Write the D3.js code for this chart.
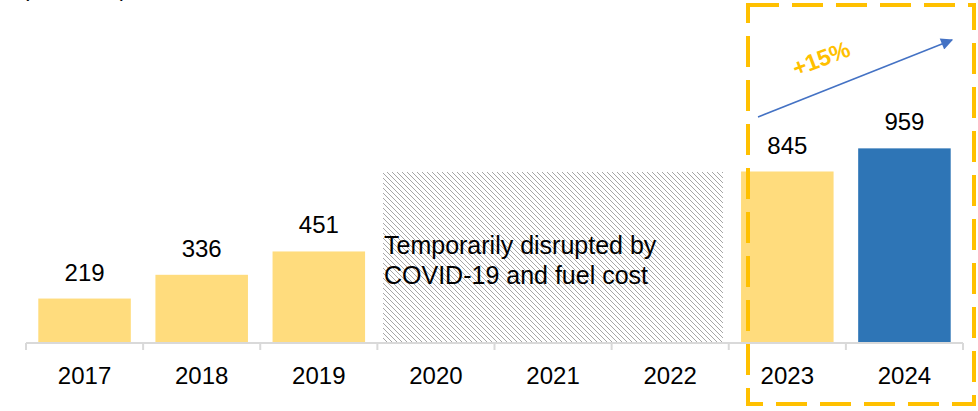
<!DOCTYPE html>
<html>
<head>
<meta charset="utf-8">
<script src="https://cdn.jsdelivr.net/npm/d3@7"></script>
<style>
  body { margin: 0; background: #fff; }
  svg { display: block; font-family: "Liberation Sans", Arial, sans-serif; }
</style>
</head>
<body>
<svg id="chart" width="978" height="411"></svg>
<script>
// data
var years = ["2017", "2018", "2019", "2020", "2021", "2022", "2023", "2024"];
var values = [219, 336, 451, null, null, null, 845, 959];
var colors = ["#FFDC7D", "#FFDC7D", "#FFDC7D", null, null, null, "#FFDC7D", "#2E75B6"];
var disruptedYears = ["2020", "2021", "2022"];
var disruptedLevel = 845;
var disruptedText = ["Temporarily disrupted by", "COVID-19 and fuel cost"];
var growthLabel = "+15%";
var unitLabel = "(thousand)";

var svg = d3.select("#chart");
var baseY = 343;

var x = d3.scaleBand()
    .domain(years)
    .range([26, 963])
    .paddingInner(0.21)
    .paddingOuter(0.105);
var y = d3.scaleLinear().domain([0, 1690]).range([baseY, 0]);
var step = x.step();
//band edges (without padding) used for ticks
var bandStart = d => x(d) - x.paddingInner() * step / 2;

var defs = svg.append("defs");
//pixel diagonal hatch, like a "light downward diagonal" fill
var hatchSize = 5;
var pat = defs.append("pattern")
    .attr("id", "hatch")
    .attr("patternUnits", "userSpaceOnUse")
    .attr("width", hatchSize)
    .attr("height", hatchSize);
pat.selectAll("rect")
    .data(d3.range(hatchSize))
  .enter().append("rect")
    .attr("x", d => d).attr("y", d => d)
    .attr("width", 1).attr("height", 1)
    .attr("fill", "#A6A6A6");
defs.append("marker")
    .attr("id", "arrowhead")
    .attr("viewBox", "0 0 10 10")
    .attr("refX", 9).attr("refY", 5)
    .attr("markerWidth", 14).attr("markerHeight", 12)
    .attr("markerUnits", "userSpaceOnUse")
    .attr("orient", "auto")
  .append("path")
    .attr("d", "M0,0 L10,5 L0,10 Z")
    .attr("fill", "#4472C4");

//unit label, mostly cut off at top
svg.append("text")
    .attr("x", 22).attr("y", -4)
    .attr("font-size", 22)
    .text(unitLabel);

//hatched area for the disrupted years
var hx0 = Math.round(bandStart(disruptedYears[0]) + 6);
var hx1 = Math.round(bandStart(disruptedYears[disruptedYears.length - 1]) + step - 6);
svg.append("rect")
    .attr("x", hx0)
    .attr("y", Math.round(y(disruptedLevel)))
    .attr("width", hx1 - hx0)
    .attr("height", baseY - Math.round(y(disruptedLevel)))
    .attr("fill", "url(#hatch)")
    .attr("shape-rendering", "crispEdges");

svg.append("text")
    .attr("x", hx0 + 1)
    .attr("y", 254)
    .attr("font-size", 25)
    .attr("fill", "#000")
  .selectAll("tspan")
  .data(disruptedText)
  .enter().append("tspan")
    .attr("x", hx0 + 1)
    .attr("dy", (d, i) => i ? 30 : 0)
    .text(d => d);

//bars
var barData = years.map((d, i) => ({ year: d, value: values[i], color: colors[i] }))
    .filter(d => d.value != null);

svg.selectAll(".bar")
    .data(barData)
  .enter().append("rect")
    .attr("class", "bar")
    .attr("x", d => x(d.year))
    .attr("y", d => y(d.value))
    .attr("width", x.bandwidth())
    .attr("height", d => baseY - y(d.value))
    .attr("fill", d => d.color);

svg.selectAll(".value")
    .data(barData)
  .enter().append("text")
    .attr("class", "value")
    .attr("x", d => x(d.year) + x.bandwidth() / 2)
    .attr("y", d => y(d.value) - 18)
    .attr("text-anchor", "middle")
    .attr("font-size", 24)
    .text(d => d.value);

//axis
var axis = svg.append("g");
axis.append("line")
    .attr("x1", 26).attr("x2", 963)
    .attr("y1", baseY).attr("y2", baseY)
    .attr("stroke", "#D9D9D9").attr("stroke-width", 2);
axis.selectAll(".tick")
    .data(years.concat(["end"]))
  .enter().append("line")
    .attr("x1", (d, i) => 26 + i * step)
    .attr("x2", (d, i) => 26 + i * step)
    .attr("y1", baseY).attr("y2", baseY + 7)
    .attr("stroke", "#D9D9D9").attr("stroke-width", 2);
axis.selectAll(".label")
    .data(years)
  .enter().append("text")
    .attr("x", d => x(d) + x.bandwidth() / 2)
    .attr("y", 384)
    .attr("text-anchor", "middle")
    .attr("font-size", 24)
    .text(d => d);

//highlight box for the last two years
svg.append("rect")
    .attr("x", 748).attr("y", 5)
    .attr("width", 226).attr("height", 399)
    .attr("fill", "none")
    .attr("stroke", "#FFC000")
    .attr("stroke-width", 4)
    .attr("stroke-dasharray", "31,13");

//growth arrow
svg.append("line")
    .attr("x1", 758).attr("y1", 117)
    .attr("x2", 952).attr("y2", 40)
    .attr("stroke", "#4472C4")
    .attr("stroke-width", 1.5)
    .attr("marker-end", "url(#arrowhead)");

svg.append("text")
    .attr("transform", "translate(824,66) rotate(-21)")
    .attr("text-anchor", "middle")
    .attr("font-size", 23)
    .attr("font-weight", "bold")
    .attr("fill", "#FFC000")
    .text(growthLabel);
</script>
</body>
</html>
